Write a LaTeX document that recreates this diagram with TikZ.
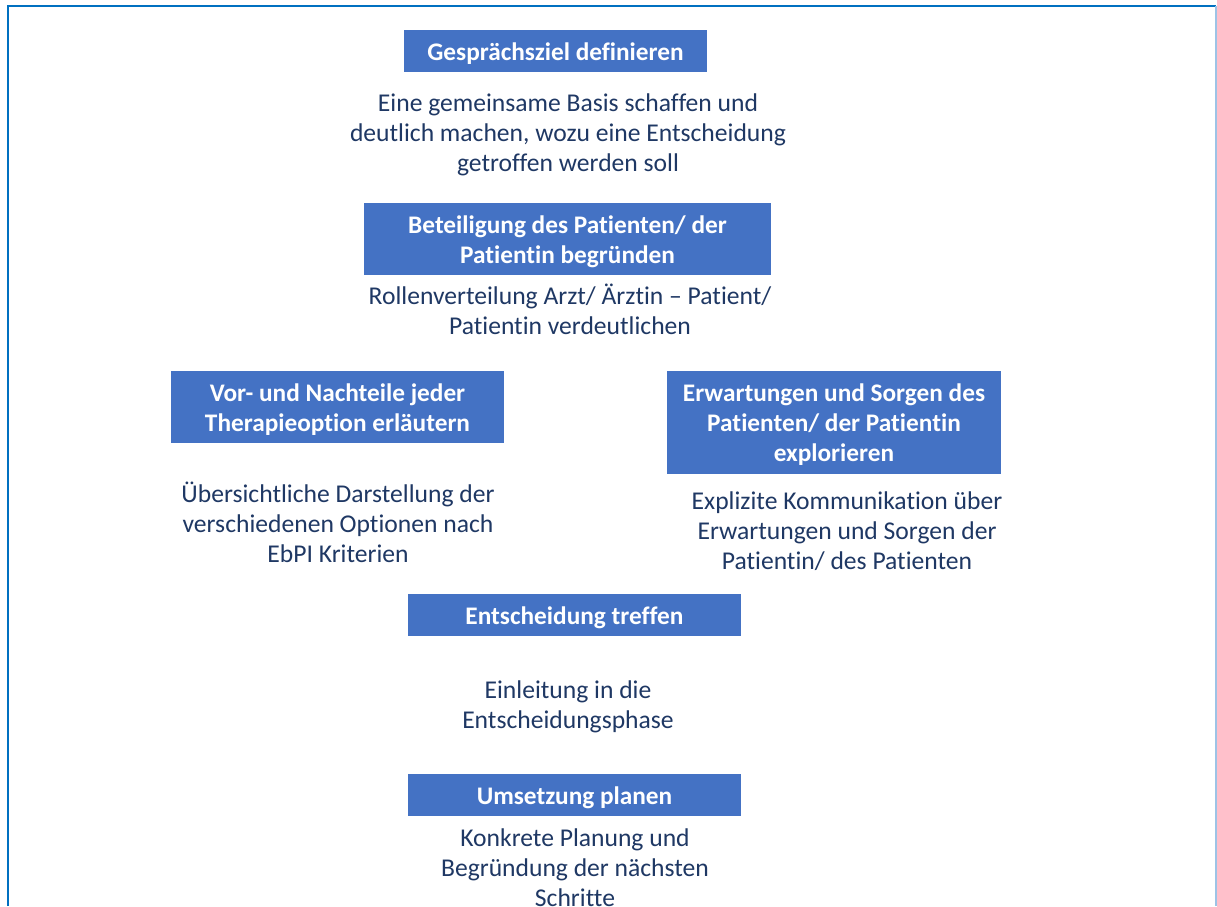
\documentclass[tikz,border=0pt]{standalone}
\usepackage{fontspec}
\setmainfont[Ligatures={NoCommon}]{Carlito}
\definecolor{boxblue}{HTML}{4472C4}
\definecolor{navy}{HTML}{1F3864}
\definecolor{framedark}{HTML}{0070C0}
\definecolor{framelight}{HTML}{9DC3E6}
\tikzset{
  stepbox/.style={fill=boxblue, draw=none, inner sep=0pt},
  boxtext/.style={text=white, font=\fontsize{25.3}{30}\selectfont\bfseries, align=center, inner sep=0pt, yshift=-2.5pt},
  desc/.style={text=navy, font=\fontsize{25.6}{30}\selectfont, align=center, inner sep=0pt},
}
\begin{document}
\begin{tikzpicture}[x=1pt,y=-1pt]
\useasboundingbox (0,0) rectangle (1217,906);
\fill[white] (0,0) rectangle (1217,906);
\draw[framedark, line width=2pt] (8,906) -- (8,6) -- (1216,6);
\draw[framelight, line width=1.5pt] (1216,6) -- (1216,906);

\node[stepbox, minimum width=303pt, minimum height=42pt,
  label={[boxtext]center:Gesprächsziel definieren}] (b1) at (555.5,51) {};
\node[desc] (d1) at (568,134.5) {Eine gemeinsame Basis schaffen und\\deutlich machen, wozu eine Entscheidung\\getroffen werden soll};

\node[stepbox, minimum width=407pt, minimum height=72pt,
  label={[boxtext]center:Beteiligung des Patienten/ der\\Patientin begründen}] (b2) at (567.5,239) {};
\node[desc] (d2) at (570,309) {Rollenverteilung Arzt/ Ärztin – Patient/\\Patientin verdeutlichen};

\node[stepbox, minimum width=333pt, minimum height=72pt,
  label={[boxtext]center:Vor- und Nachteile jeder\\Therapieoption erläutern}] (b3) at (337.5,407) {};
\node[desc] (d3) at (338,522) {Übersichtliche Darstellung der\\verschiedenen Optionen nach\\EbPI Kriterien};

\node[stepbox, minimum width=334pt, minimum height=103pt,
  label={[boxtext]center:Erwartungen und Sorgen des\\Patienten/ der Patientin\\explorieren}] (b4) at (834,422.5) {};
\node[desc] (d4) at (847,531) {Explizite Kommunikation über\\Erwartungen und Sorgen der\\Patientin/ des Patienten};

\node[stepbox, minimum width=333pt, minimum height=42pt,
  label={[boxtext]center:Entscheidung treffen}] (b5) at (574.5,615) {};
\node[desc] (d5) at (568,707) {Einleitung in die\\Entscheidungsphase};

\node[stepbox, minimum width=333pt, minimum height=42pt,
  label={[boxtext]center:Umsetzung planen}] (b6) at (574.5,795) {};
\node[desc] (d6) at (575,868) {Konkrete Planung und\\Begründung der nächsten\\Schritte};
\end{tikzpicture}
\end{document}
